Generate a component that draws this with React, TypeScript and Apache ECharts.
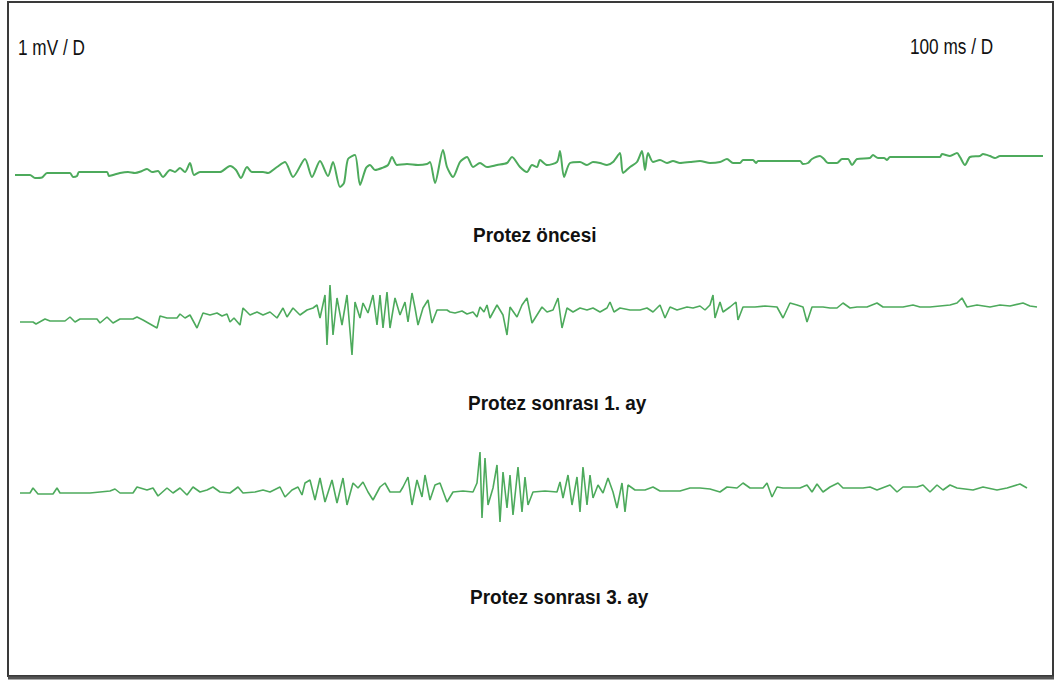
import React, { useEffect, useRef } from "react";
import * as echarts from "echarts";

// time in ms (window ~1030 ms, 100 ms / division), amplitude in µV
const traceLabels = ["Protez öncesi", "Protez sonrası 1. ay", "Protez sonrası 3. ay"];
const scaleLabels = ["1 mV / D", "100 ms / D"];

const preOp: [number, number][] = [
  [0, 0], [15, 0], [20, -30], [27, -25], [32, 20], [55, 20], [58, -20], [62, -10], [64, 30], [92, 30],
  [94, -10], [98, 0], [105, 20], [113, 30], [120, 20], [127, 40], [132, 60], [137, 30], [143, 40], [148, -20],
  [155, 50], [160, 30], [165, 70], [170, 30], [175, 120], [179, 0], [185, 30], [205, 30], [215, 90], [221, 50],
  [226, -30], [232, 80], [237, 30], [248, 30], [253, 20], [262, 80], [270, 130], [278, -20], [290, 160], [297, -20],
  [305, 140], [313, -10], [318, 130], [325, -120], [329, -80], [333, 160], [340, 200], [345, -100], [351, 70], [355, 100],
  [360, 50], [367, 70], [373, 100], [377, 180], [382, 100], [392, 110], [403, 100], [412, 110], [415, 130], [420, -80],
  [428, 250], [432, 80], [438, -20], [445, 130], [452, 180], [458, 80], [465, 120], [472, 80], [482, 100], [492, 120],
  [497, 180], [505, 80], [512, 30], [517, 100], [522, 80], [525, 150], [532, 100], [542, 130], [545, 240], [549, -20],
  [555, 120], [565, 130], [572, 100], [578, 130], [585, 120], [592, 100], [598, 130], [605, 220], [608, 20], [615, 80],
  [622, 130], [627, 240], [630, 50], [633, 220], [638, 130], [645, 150], [652, 120], [658, 140], [665, 120], [675, 130],
  [685, 140], [695, 120], [705, 130], [712, 160], [718, 120], [725, 120], [728, 150], [738, 150], [741, 120], [743, 140],
  [785, 140], [788, 110], [793, 120], [797, 160], [805, 190], [809, 160], [813, 120], [822, 120], [827, 160], [833, 160],
  [837, 100], [842, 160], [855, 170], [858, 200], [863, 170], [869, 170], [872, 150], [875, 180], [925, 180], [927, 210],
  [935, 190], [942, 220], [945, 180], [950, 100], [955, 180], [965, 190], [968, 210], [975, 190], [980, 170], [985, 190],
  [1028, 190],
];

const postOp1: [number, number][] = [
  [5, -20], [18, -20], [21, -40], [30, 10], [35, -10], [50, -10], [55, 30], [60, -20], [65, 10], [82, 10],
  [85, -30], [92, 30], [98, -30], [105, 10], [118, 10], [122, 30], [128, 0], [135, -40], [142, -80], [145, 40],
  [152, 20], [162, 20], [165, 60], [170, 20], [175, 50], [182, -80], [188, 70], [195, 50], [202, 70], [207, 40],
  [212, 60], [215, -20], [219, 20], [225, -50], [228, 120], [235, 50], [242, 80], [248, 50], [255, 80], [262, 20],
  [268, 120], [272, 30], [278, 120], [285, 50], [292, 100], [298, 120], [302, 150], [305, 20], [310, 250], [312, -250],
  [315, 350], [318, -150], [322, 220], [327, -50], [332, 250], [337, -350], [340, 180], [345, 20], [348, 170], [353, 70],
  [358, 250], [362, -50], [365, 250], [368, -80], [372, 280], [375, -80], [380, 220], [385, 50], [390, 180], [393, -20],
  [397, 270], [400, 120], [403, -50], [408, 120], [413, 200], [417, -30], [422, 100], [432, 100], [435, 80], [440, 70],
  [447, 90], [452, 60], [458, 80], [462, 30], [465, 130], [469, 80], [472, 150], [475, 20], [482, 150], [488, 50],
  [492, -150], [495, 130], [502, 30], [507, 150], [512, 220], [517, -30], [522, 50], [527, 130], [532, 80], [538, 100],
  [543, 220], [547, -80], [552, 120], [558, 80], [565, 120], [572, 100], [578, 120], [585, 80], [592, 120], [595, 180],
  [599, 80], [605, 120], [615, 100], [625, 100], [632, 120], [638, 80], [645, 150], [650, 20], [655, 130], [662, 100],
  [672, 130], [678, 120], [685, 140], [690, 100], [695, 150], [698, 250], [700, 20], [705, 180], [708, 80], [715, 130],
  [721, 180], [723, 0], [728, 130], [740, 130], [750, 140], [762, 130], [768, 20], [775, 170], [782, 150], [788, 130],
  [792, -20], [797, 130], [808, 130], [815, 120], [822, 120], [828, 170], [835, 120], [842, 130], [852, 130], [862, 170],
  [868, 130], [875, 130], [888, 130], [898, 150], [905, 130], [915, 130], [925, 140], [935, 150], [942, 170], [947, 220],
  [952, 130], [962, 150], [975, 130], [985, 150], [995, 140], [1008, 170], [1015, 140], [1022, 130],
];

const postOp3: [number, number][] = [
  [5, -30], [15, -30], [18, 20], [23, -40], [38, -40], [42, 20], [45, -30], [75, -30], [85, -20], [95, -10],
  [100, 10], [105, -30], [118, -30], [122, 30], [132, 0], [138, 20], [143, -60], [152, 20], [158, -30], [165, 20],
  [172, -50], [178, 30], [185, -20], [192, 0], [198, 30], [205, -20], [215, -30], [223, 30], [228, -30], [240, -20],
  [248, 0], [255, -20], [265, 30], [270, -70], [277, 0], [283, 30], [287, -50], [290, 70], [295, 100], [300, -100],
  [305, 120], [310, -120], [317, 100], [322, -130], [328, 120], [332, -150], [338, 70], [343, 20], [348, 80], [353, -20],
  [358, -100], [365, 30], [370, 70], [375, -20], [385, -20], [388, 30], [393, 130], [397, -150], [402, 100], [407, -70],
  [410, 150], [415, -100], [420, 50], [425, 70], [432, -120], [438, -20], [448, -10], [458, -20], [462, 70], [465, 380],
  [467, -280], [470, 320], [473, -150], [478, 20], [482, 250], [485, -320], [488, 180], [492, -180], [495, 150], [498, -250],
  [503, 230], [507, -220], [510, 130], [513, -150], [518, -20], [530, -10], [542, -20], [545, 80], [548, -80], [553, 150],
  [557, -150], [562, 130], [565, -220], [568, 230], [572, -150], [575, 150], [578, -80], [583, 50], [588, -30], [593, 120],
  [598, -20], [602, -180], [607, 70], [610, -220], [613, 50], [620, 0], [630, 0], [638, 30], [645, -10], [665, -10],
  [675, 20], [685, 20], [695, 10], [705, -20], [712, 30], [722, 20], [728, 70], [735, 20], [748, 20], [752, 70],
  [757, -70], [762, 30], [768, 20], [785, 20], [792, 50], [797, -20], [802, 60], [808, -20], [815, 30], [823, 70],
  [828, 20], [848, 20], [855, 30], [862, 0], [875, 50], [882, -20], [888, 30], [902, 30], [908, 50], [915, -20],
  [922, 50], [928, 0], [935, 50], [942, 20], [958, 0], [968, 30], [982, 0], [992, 20], [1005, 60], [1012, 20],
];

const traces = [preOp, postOp1, postOp3];

export default function App() {
  const ref = useRef<HTMLDivElement>(null);
  useEffect(() => {
    if (!ref.current) return;
    const chart = echarts.init(ref.current, undefined, { renderer: "svg" });
    const grids = [
      { left: 15, width: 1030, top: 130, height: 70 },
      { left: 15, width: 1030, top: 270, height: 100 },
      { left: 15, width: 1030, top: 440, height: 90 },
    ];
    const yRanges = [
      [-250, 450],
      [-500, 500],
      [-400, 500],
    ];
    const lineWidths = [2, 1.6, 1.6];
    const smoothing = [0.25, 0, 0];
    const labelX = [473, 468, 470];
    const labelY = [235, 403, 597];
    const font = "Liberation Sans, Arial, sans-serif";
    chart.setOption({
      animation: false,
      backgroundColor: "#ffffff",
      grid: grids,
      xAxis: grids.map((_, i) => ({ type: "value", gridIndex: i, min: 0, max: 1030, show: false })),
      yAxis: grids.map((_, i) => ({ type: "value", gridIndex: i, min: yRanges[i][0], max: yRanges[i][1], show: false })),
      series: traces.map((d, i) => ({
        type: "line",
        name: traceLabels[i],
        xAxisIndex: i,
        yAxisIndex: i,
        data: d,
        showSymbol: false,
        symbol: "none",
        smooth: smoothing[i],
        lineStyle: { color: "#4daa5c", width: lineWidths[i] },
      })),
      graphic: [
        { type: "rect", shape: { x: 8, y: 2, width: 1045, height: 674 }, style: { fill: "none", stroke: "#3a3a3a", lineWidth: 2 }, silent: true },
        { type: "line", shape: { x1: 8, y1: 678, x2: 1054, y2: 678 }, style: { stroke: "#555", lineWidth: 3 }, silent: true },
        { type: "text", x: 18, y: 47, scaleX: 0.86, scaleY: 1.1, style: { text: scaleLabels[0], font: `20px ${font}`, fill: "#111", verticalAlign: "middle" } },
        { type: "text", x: 910, y: 46, scaleX: 0.86, scaleY: 1.1, style: { text: scaleLabels[1], font: `20px ${font}`, fill: "#111", verticalAlign: "middle" } },
        ...traceLabels.map((t, i) => ({
          type: "text",
          x: labelX[i],
          y: labelY[i],
          scaleX: 0.95,
          scaleY: 1.05,
          style: { text: t, font: `bold 20px ${font}`, fill: "#111", align: "left", verticalAlign: "middle" },
        })),
      ],
    });
    return () => chart.dispose();
  }, []);
  return <div ref={ref} style={{ position: "fixed", left: 0, top: 0, width: 1059, height: 682 }} />;
}
